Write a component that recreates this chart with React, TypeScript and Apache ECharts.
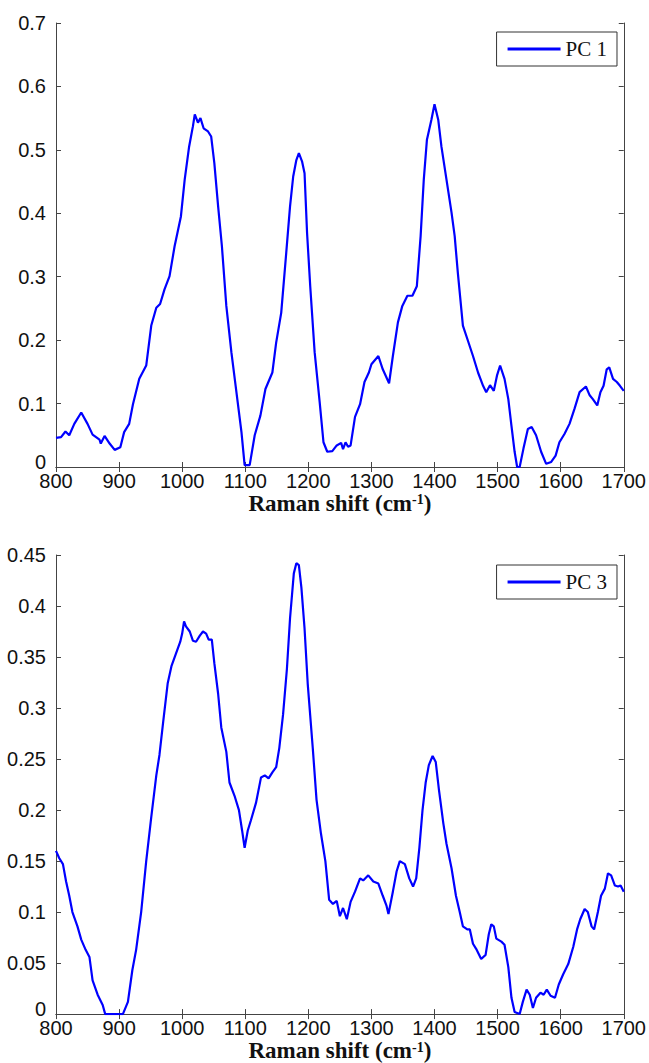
import React, { useEffect, useRef } from "react";
import * as echarts from "echarts";

const pc1X = [800, 808, 815, 821, 829, 840, 850, 858, 869, 871, 877, 885, 893, 902, 908, 916, 922, 932, 943, 951, 959, 965, 972, 980, 988, 998, 1004, 1011, 1017, 1020, 1025, 1029, 1034, 1041, 1046, 1051, 1057, 1063, 1070, 1078, 1086, 1094, 1099, 1107, 1115, 1124, 1132, 1143, 1149, 1157, 1165, 1171, 1176, 1181, 1185, 1190, 1194, 1198, 1203, 1210, 1218, 1224, 1230, 1238, 1245, 1252, 1255, 1259, 1263, 1267, 1274, 1282, 1289, 1296, 1300, 1311, 1318, 1328, 1334, 1342, 1349, 1357, 1365, 1372, 1378, 1383, 1388, 1395, 1400, 1406, 1411, 1419, 1427, 1432, 1437, 1445, 1453, 1461, 1469, 1477, 1482, 1488, 1494, 1499, 1504, 1511, 1517, 1522, 1527, 1531, 1535, 1541, 1548, 1554, 1561, 1569, 1577, 1585, 1592, 1598, 1606, 1614, 1622, 1630, 1640, 1646, 1651, 1658, 1663, 1668, 1673, 1677, 1683, 1689, 1694, 1700];
const pc1Y = [0.046, 0.047, 0.056, 0.05, 0.068, 0.086, 0.068, 0.051, 0.043, 0.037, 0.049, 0.037, 0.027, 0.031, 0.055, 0.068, 0.099, 0.139, 0.16, 0.223, 0.251, 0.257, 0.28, 0.301, 0.348, 0.395, 0.453, 0.505, 0.537, 0.556, 0.543, 0.55, 0.534, 0.529, 0.521, 0.479, 0.411, 0.348, 0.254, 0.181, 0.118, 0.055, 0.003, 0.003, 0.05, 0.081, 0.123, 0.149, 0.196, 0.243, 0.338, 0.411, 0.458, 0.484, 0.495, 0.482, 0.463, 0.369, 0.285, 0.181, 0.102, 0.039, 0.024, 0.025, 0.034, 0.038, 0.028, 0.039, 0.032, 0.034, 0.079, 0.099, 0.134, 0.149, 0.162, 0.175, 0.154, 0.132, 0.175, 0.228, 0.254, 0.27, 0.27, 0.285, 0.364, 0.453, 0.516, 0.547, 0.572, 0.547, 0.505, 0.453, 0.401, 0.364, 0.306, 0.223, 0.199, 0.175, 0.149, 0.128, 0.118, 0.129, 0.12, 0.144, 0.16, 0.139, 0.107, 0.065, 0.024, 0.0, 0.0, 0.029, 0.06, 0.063, 0.05, 0.024, 0.005, 0.008, 0.018, 0.039, 0.052, 0.068, 0.092, 0.118, 0.127, 0.113, 0.107, 0.097, 0.118, 0.128, 0.154, 0.157, 0.139, 0.134, 0.128, 0.12];

const pc3X = [800, 805, 811, 816, 821, 826, 834, 840, 847, 853, 858, 866, 874, 878, 895, 906, 914, 921, 927, 935, 943, 951, 959, 964, 970, 977, 983, 990, 997, 1000, 1003, 1006, 1012, 1017, 1022, 1028, 1033, 1038, 1042, 1047, 1051, 1057, 1062, 1070, 1075, 1083, 1090, 1095, 1099, 1104, 1109, 1117, 1125, 1131, 1137, 1143, 1149, 1154, 1160, 1166, 1171, 1177, 1181, 1185, 1189, 1194, 1199, 1207, 1213, 1220, 1227, 1233, 1239, 1245, 1250, 1255, 1261, 1267, 1274, 1282, 1287, 1295, 1303, 1311, 1318, 1324, 1327, 1334, 1340, 1345, 1353, 1360, 1366, 1371, 1376, 1381, 1386, 1391, 1397, 1402, 1407, 1414, 1419, 1427, 1434, 1440, 1445, 1452, 1456, 1461, 1466, 1474, 1481, 1486, 1490, 1494, 1498, 1506, 1511, 1517, 1522, 1527, 1535, 1540, 1546, 1551, 1556, 1561, 1568, 1573, 1578, 1584, 1591, 1597, 1604, 1612, 1620, 1626, 1631, 1638, 1643, 1649, 1653, 1659, 1664, 1670, 1675, 1680, 1686, 1691, 1695, 1700];
const pc3Y = [0.16, 0.153, 0.147, 0.13, 0.116, 0.1, 0.086, 0.073, 0.063, 0.056, 0.033, 0.019, 0.009, 0.0, 0.0, 0.0, 0.012, 0.043, 0.063, 0.1, 0.15, 0.193, 0.234, 0.254, 0.287, 0.324, 0.341, 0.353, 0.365, 0.373, 0.385, 0.38, 0.375, 0.366, 0.365, 0.371, 0.375, 0.373, 0.367, 0.367, 0.344, 0.314, 0.281, 0.257, 0.227, 0.214, 0.2, 0.18, 0.163, 0.18, 0.19, 0.207, 0.232, 0.234, 0.231, 0.237, 0.242, 0.261, 0.294, 0.338, 0.388, 0.432, 0.442, 0.44, 0.418, 0.378, 0.324, 0.261, 0.21, 0.177, 0.15, 0.112, 0.108, 0.111, 0.096, 0.104, 0.093, 0.11, 0.12, 0.133, 0.131, 0.136, 0.13, 0.128, 0.116, 0.106, 0.098, 0.12, 0.14, 0.15, 0.147, 0.133, 0.125, 0.133, 0.163, 0.2, 0.227, 0.244, 0.253, 0.247, 0.22, 0.187, 0.167, 0.143, 0.116, 0.1, 0.086, 0.083, 0.083, 0.069, 0.064, 0.054, 0.058, 0.078, 0.088, 0.086, 0.074, 0.071, 0.068, 0.046, 0.016, 0.002, 0.0, 0.012, 0.024, 0.019, 0.006, 0.016, 0.021, 0.019, 0.024, 0.018, 0.016, 0.029, 0.039, 0.049, 0.066, 0.083, 0.093, 0.103, 0.1, 0.086, 0.083, 0.1, 0.116, 0.123, 0.138, 0.136, 0.126, 0.125, 0.126, 0.12];

const xTicksMin = 800;
const xTicksMax = 1700;
const xTickStep = 100;
const pc1YMax = 0.7;
const pc1YStep = 0.1;
const pc3YMax = 0.45;
const pc3YStep = 0.05;
const xAxisTitle = "Raman shift (cm";
const xAxisSup = "-1";
const seriesNames = ["PC 1", "PC 3"];

const AXIS_COLOR = "#444";
const LABEL_FONT = "'Liberation Sans', Arial, sans-serif";
const SERIF = "'Liberation Serif', 'Times New Roman', serif";

export default function App() {
  const ref = useRef<HTMLDivElement>(null);

  useEffect(() => {
    if (!ref.current) return;
    const chart = echarts.init(ref.current, undefined, { renderer: "svg" });

    const grids = [
      { left: 56, top: 23, width: 570, height: 444 },
      { left: 56, top: 555, width: 570, height: 472 },
    ];

    const mkX = (gi: number) => [
      {
        type: "value",
        gridIndex: gi,
        position: "bottom",
        min: xTicksMin,
        max: xTicksMax,
        interval: xTickStep,
        axisLine: { show: true, lineStyle: { color: AXIS_COLOR, width: 1 } },
        axisTick: { show: true, inside: true, length: 5, lineStyle: { color: AXIS_COLOR } },
        axisLabel: {
          color: "#111",
          fontSize: 20,
          fontFamily: LABEL_FONT,
          margin: 4,
          formatter: (v: number) => String(v),
        },
        splitLine: { show: false },
        name: `{b|${xAxisTitle}}{s|${xAxisSup}}{b|)}`,
        nameLocation: "middle",
        nameGap: 10,
        nameTextStyle: {
          rich: {
            b: { fontFamily: SERIF, fontWeight: "bold", fontSize: 23, color: "#111", lineHeight: 22, verticalAlign: "bottom" },
            s: { fontFamily: SERIF, fontWeight: "bold", fontSize: 14, color: "#111", lineHeight: 22, verticalAlign: "top" },
          },
        },
      },
      {
        type: "value",
        gridIndex: gi,
        position: "top",
        min: xTicksMin,
        max: xTicksMax,
        interval: xTickStep,
        axisLine: { show: true, lineStyle: { color: AXIS_COLOR, width: 1 } },
        axisTick: { show: true, inside: true, length: 5, lineStyle: { color: AXIS_COLOR } },
        axisLabel: { show: false },
        splitLine: { show: false },
      },
    ];

    const mkY = (gi: number, max: number, step: number) => [
      {
        type: "value",
        gridIndex: gi,
        position: "left",
        min: 0,
        max,
        interval: step,
        axisLine: { show: true, lineStyle: { color: AXIS_COLOR, width: 1 } },
        axisTick: { show: true, inside: true, length: 5, lineStyle: { color: AXIS_COLOR } },
        axisLabel: {
          color: "#111",
          fontSize: 20,
          fontFamily: LABEL_FONT,
          margin: 10,
          formatter: (v: number) => (v === 0 ? "{z|0}" : String(v)),
          rich: {
            z: { color: "#111", fontSize: 20, fontFamily: LABEL_FONT, padding: [0, 0, 10, 0] },
          },
        },
        splitLine: { show: false },
      },
      {
        type: "value",
        gridIndex: gi,
        position: "right",
        min: 0,
        max,
        interval: step,
        axisLine: { show: true, lineStyle: { color: AXIS_COLOR, width: 1 } },
        axisTick: { show: true, inside: true, length: 5, lineStyle: { color: AXIS_COLOR } },
        axisLabel: { show: false },
        splitLine: { show: false },
      },
    ];

    const legendBase = {
      right: 32,
      orient: "horizontal",
      padding: [5, 10, 5, 11],
      icon: "rect",
      itemWidth: 53,
      itemHeight: 3,
      itemGap: 0,
      borderColor: "#333",
      borderWidth: 1,
      backgroundColor: "#fff",
      textStyle: { fontFamily: SERIF, fontSize: 21, color: "#111", lineHeight: 24 },
    };

    chart.setOption({
      animation: false,
      backgroundColor: "#fff",
      grid: grids,
      xAxis: [...mkX(0), ...mkX(1)],
      yAxis: [...mkY(0, pc1YMax, pc1YStep), ...mkY(1, pc3YMax, pc3YStep)],
      legend: [
        { ...legendBase, top: 32, data: [seriesNames[0]] },
        { ...legendBase, top: 565, data: [seriesNames[1]] },
      ],
      series: [
        {
          name: seriesNames[0],
          type: "line",
          xAxisIndex: 0,
          yAxisIndex: 0,
          symbol: "none",
          lineStyle: { color: "#0000ff", width: 2.2 },
          itemStyle: { color: "#0000ff" },
          data: pc1X.map((x, i) => [x, pc1Y[i]]),
        },
        {
          name: seriesNames[1],
          type: "line",
          xAxisIndex: 2,
          yAxisIndex: 2,
          symbol: "none",
          lineStyle: { color: "#0000ff", width: 2.2 },
          itemStyle: { color: "#0000ff" },
          data: pc3X.map((x, i) => [x, pc3Y[i]]),
        },
      ],
    });

    return () => chart.dispose();
  }, []);

  return (
    <div
      ref={ref}
      style={{ position: "fixed", left: 0, top: 0, width: 649, height: 1063, background: "#fff" }}
    />
  );
}
